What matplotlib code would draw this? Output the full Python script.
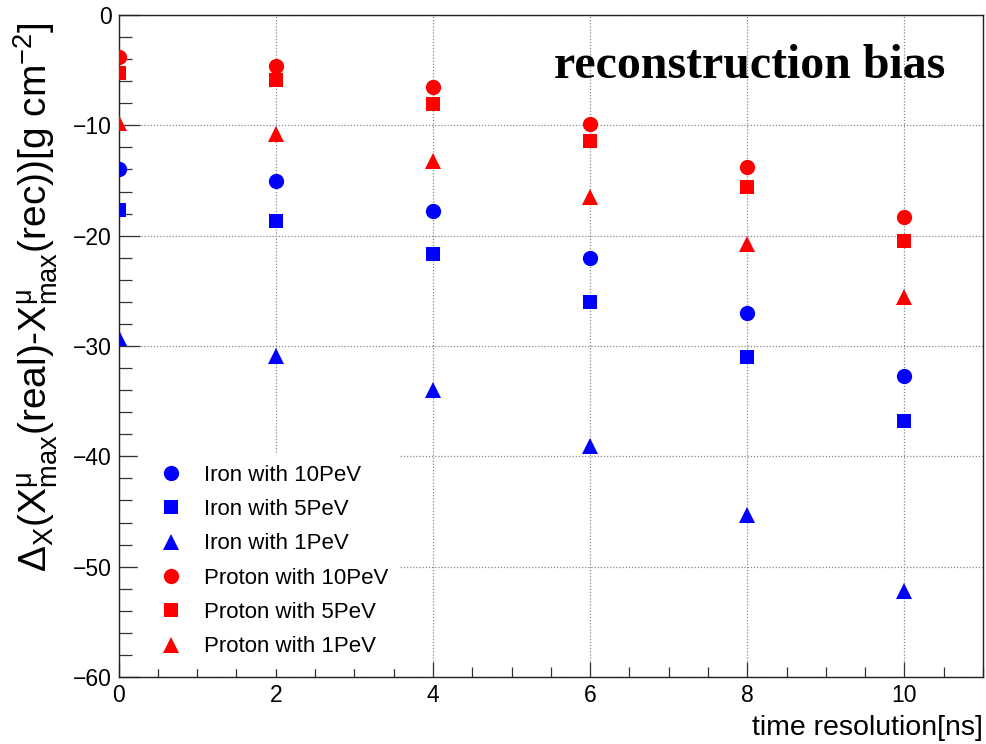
import matplotlib
matplotlib.use('Agg')
import matplotlib.pyplot as plt
from matplotlib.ticker import MultipleLocator

plt.rcParams['font.family'] = ['Liberation Sans', 'DejaVu Sans']
plt.rcParams['mathtext.fontset'] = 'custom'
plt.rcParams['mathtext.rm'] = 'Liberation Sans'
plt.rcParams['mathtext.it'] = 'Liberation Sans'
plt.rcParams['mathtext.default'] = 'regular'

# time resolution [ns]
time_res = [0, 2, 4, 6, 8, 10]

# reconstruction bias values
iron_10pev = [-14.0, -15.0, -17.8, -22.0, -27.0, -32.7]
iron_5pev = [-17.7, -18.7, -21.7, -26.0, -31.0, -36.8]
iron_1pev = [-29.3, -30.9, -34.0, -39.1, -45.3, -52.2]
proton_10pev = [-3.8, -4.6, -6.5, -9.9, -13.8, -18.3]
proton_5pev = [-5.3, -5.9, -8.1, -11.4, -15.6, -20.45]
proton_1pev = [-9.8, -10.8, -13.2, -16.5, -20.8, -25.6]

labels = ['Iron with 10PeV', 'Iron with 5PeV', 'Iron with 1PeV',
          'Proton with 10PeV', 'Proton with 5PeV', 'Proton with 1PeV']

fig = plt.figure(figsize=(9.86, 7.44), dpi=100)
ax = fig.add_axes([118.6 / 986, 1 - 677 / 744, (983 - 118.6) / 986, (677 - 15) / 744])

series = [iron_10pev, iron_5pev, iron_1pev, proton_10pev, proton_5pev, proton_1pev]
colors = ['#0000ff'] * 3 + ['#ff0000'] * 3
markers = ['o', 's', '^'] * 2
sizes = [11, 10.5, 11] * 2

for vals, c, m, s, lab in zip(series, colors, markers, sizes, labels):
    ax.plot(time_res, vals, linestyle='none', marker=m, ms=s, color=c,
            markeredgewidth=0, label=lab, zorder=3)

ax.set_xlim(0, 11)
ax.set_ylim(-60, 0)
ax.xaxis.set_major_locator(MultipleLocator(2))
ax.xaxis.set_minor_locator(MultipleLocator(0.5))
ax.yaxis.set_major_locator(MultipleLocator(10))
ax.yaxis.set_minor_locator(MultipleLocator(2))

ax.grid(True, which='major', color='#888888', linestyle=(0, (1, 1.5)), linewidth=0.9)
ax.set_axisbelow(True)

ax.tick_params(axis='both', which='both', direction='in', color='#333333',
               labelsize=16.5, top=False, right=False)
ax.tick_params(axis='x', which='major', length=11, width=0.9, pad=5)
ax.tick_params(axis='x', which='minor', length=7, width=0.9)
ax.tick_params(axis='y', which='major', length=15, width=0.9, pad=5)
ax.tick_params(axis='y', which='minor', length=9, width=0.9)
for sp in ax.spines.values():
    sp.set_linewidth(1.0)
    sp.set_color('#222222')

ax.set_xlabel('time resolution[ns]', fontsize=20.5, loc='right', labelpad=6)
ax.set_ylabel('Δ$_X$(X$^{μ}_{max}$(real)-X$^{μ}_{max}$(rec))[g cm$^{-2}$]',
              fontsize=28, loc='top')
ax.yaxis.set_label_coords(-0.068, 0.99)

ax.text(0.956, 0.905, 'reconstruction bias', transform=ax.transAxes,
        ha='right', va='baseline', fontsize=34.5, fontweight='bold',
        family=['Liberation Serif', 'DejaVu Serif'])

leg = ax.legend(loc='upper left', bbox_to_anchor=(0.0224, 0.3375), fontsize=16,
                frameon=True, facecolor='white', edgecolor='white', framealpha=1,
                fancybox=False, borderpad=0.5, handlelength=2.0, handletextpad=0.47,
                labelspacing=0.6, borderaxespad=0, numpoints=1)
leg.set_zorder(4)

fig.savefig('out.png', dpi=100)
